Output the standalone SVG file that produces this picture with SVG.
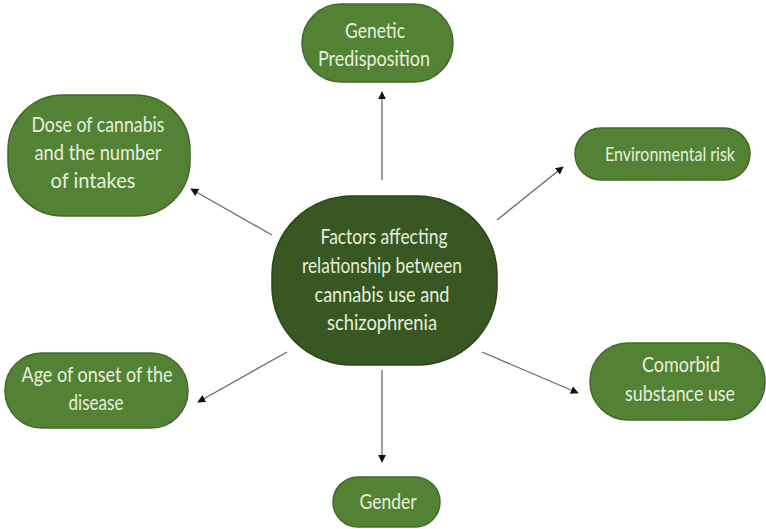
<svg xmlns="http://www.w3.org/2000/svg" width="766" height="529" viewBox="0 0 766 529">
<defs>
<style>
.n{fill:#548235;stroke:#44692b;stroke-width:1.5}
.c{fill:#385723;stroke:#2d461c;stroke-width:1.5}
.t{font-family:Lato,"Liberation Sans",sans-serif;font-size:21px;fill:#e6f0dc;text-anchor:middle}
.l{stroke:#6b6b6b;stroke-width:1.3;fill:none;marker-end:url(#ah)}
</style>
<marker id="ah" viewBox="0 0 10 10" refX="9" refY="5" markerWidth="8" markerHeight="8" markerUnits="userSpaceOnUse" orient="auto">
<path d="M0,0 L10,5 L0,10 z" fill="#111"/>
</marker>
</defs>
<rect width="766" height="529" fill="#fff"/>
<g id="connectors">
<line class="l" x1="382" y1="180" x2="382" y2="92"/>
<line class="l" x1="272" y1="235" x2="191" y2="189"/>
<line class="l" x1="497" y1="220" x2="563" y2="167"/>
<line class="l" x1="287" y1="352" x2="198" y2="402"/>
<line class="l" x1="482" y1="352" x2="578" y2="393"/>
<line class="l" x1="382" y1="370" x2="382" y2="462"/>
</g>
<g id="center">
<rect class="c" x="272" y="196" width="225" height="169" rx="80" ry="78"/>
<text class="t"><tspan x="384" y="244" textLength="127" lengthAdjust="spacingAndGlyphs">Factors affecting</tspan><tspan x="382" y="273" textLength="160" lengthAdjust="spacingAndGlyphs">relationship between</tspan><tspan x="382" y="302" textLength="135" lengthAdjust="spacingAndGlyphs">cannabis use and</tspan><tspan x="382" y="330" textLength="110" lengthAdjust="spacingAndGlyphs">schizophrenia</tspan></text>
</g>
<g id="genetic">
<rect class="n" x="302" y="4" width="151" height="78" rx="39" ry="39"/>
<text class="t"><tspan x="375" y="38" textLength="60" lengthAdjust="spacingAndGlyphs">Genetic</tspan><tspan x="374" y="66" textLength="112" lengthAdjust="spacingAndGlyphs">Predisposition</tspan></text>
</g>
<g id="dose">
<rect class="n" x="8" y="95" width="182" height="121" rx="55" ry="55"/>
<text class="t"><tspan x="98" y="132" textLength="133" lengthAdjust="spacingAndGlyphs">Dose of cannabis</tspan><tspan x="98" y="160" textLength="127" lengthAdjust="spacingAndGlyphs">and the number</tspan><tspan x="93" y="188" textLength="85" lengthAdjust="spacingAndGlyphs">of intakes</tspan></text>
</g>
<g id="environmental">
<rect class="n" x="575" y="128" width="175" height="52" rx="26" ry="26"/>
<text class="t" style="font-size:19px"><tspan x="670" y="161" textLength="130" lengthAdjust="spacingAndGlyphs">Environmental risk</tspan></text>
</g>
<g id="age">
<rect class="n" x="5" y="353" width="183" height="75" rx="37" ry="37"/>
<text class="t"><tspan x="97" y="382" textLength="151" lengthAdjust="spacingAndGlyphs">Age of onset of the</tspan><tspan x="96" y="410" textLength="55" lengthAdjust="spacingAndGlyphs">disease</tspan></text>
</g>
<g id="comorbid">
<rect class="n" x="590" y="343" width="175" height="77" rx="38" ry="38"/>
<text class="t"><tspan x="681" y="372" textLength="78" lengthAdjust="spacingAndGlyphs">Comorbid</tspan><tspan x="680" y="401" textLength="110" lengthAdjust="spacingAndGlyphs">substance use</tspan></text>
</g>
<g id="gender">
<rect class="n" x="333" y="477" width="107" height="50" rx="25" ry="25"/>
<text class="t"><tspan x="388" y="509" textLength="57" lengthAdjust="spacingAndGlyphs">Gender</tspan></text>
</g>
</svg>
